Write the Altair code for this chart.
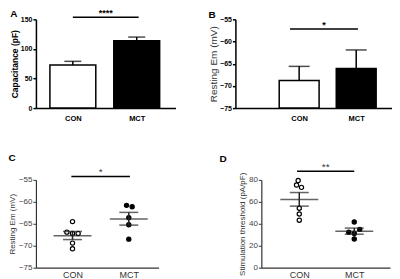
import altair as alt
import pandas as pd

FONT = "Liberation Sans"
groups = ["CON", "MCT"]
gidx = [0, 1]

# Panel A: capacitance (bar + SEM)
cap_mean = [73, 114]
cap_err = [6, 6]
# Panel B: resting Em (bar + SEM)
em_mean = [-68.8, -66.1]
em_err = [3.2, 4.2]
# Panel C: resting Em individual cells
c_con = [-64.5, -66.9, -67.2, -67.2, -69.4, -70.7]
c_mct = [-60.8, -61.1, -63.6, -65.2, -68.5]
c_con_jit = [0, -0.1, 0, 0.1, 0, 0]
c_mct_jit = [-0.04, 0.06, 0, 0, 0]
c_mean = [-67.7, -63.9]
c_lo = [-68.6, -65.3]
c_hi = [-66.75, -62.4]
# Panel D: stimulation threshold individual cells
d_con = [79.4, 75.3, 73.2, 54.2, 48.9, 43.3]
d_mct = [41.7, 32.3, 31.1, 34.9, 26.2]
d_con_jit = [-0.02, -0.05, 0.04, 0, 0, 0]
d_mct_jit = [0, -0.1, 0, 0.1, 0]
d_mean = [62.2, 33.3]
d_lo = [56.1, 30.5]
d_hi = [68.5, 36.1]
# significance bars
sig_y = [153.4, -57.2, -54.2, 87.9]
sig_x1 = [0, -0.16, -0.02, -0.04]
sig_x2 = [1.03, 1.03, 1.02, 1.0]
sig_txt = ["****", "*", "*", "**"]

LABEL_EXPR = "datum.value == 0 ? 'CON' : 'MCT'"


def xaxis(bold):
    if bold:
        return alt.Axis(values=[0, 1], labelExpr=LABEL_EXPR, ticks=False, grid=False, title=None,
                        labelFont=FONT, labelFontWeight="bold", labelFontSize=7.5, labelColor="black",
                        labelPadding=6, domainColor="black", domainWidth=1.5)
    return alt.Axis(values=[0, 1], labelExpr=LABEL_EXPR, ticks=False, grid=False, title=None,
                    labelFont=FONT, labelFontSize=9, labelColor="#333", labelPadding=3,
                    domainColor="#333", domainWidth=1.2)


def X(field, dom, axis):
    return alt.X(f"{field}:Q", scale=alt.Scale(domain=dom, nice=False, zero=False), axis=axis)


def Y(field, dom, axis):
    return alt.Y(f"{field}:Q", scale=alt.Scale(domain=dom, nice=False, zero=False), axis=axis)


def sig_layers(i, xs, ys, bold):
    df = pd.DataFrame({"x1": [sig_x1[i]], "x2": [sig_x2[i]], "y": [sig_y[i]], "t": [sig_txt[i]]})
    base = alt.Chart(df)
    rule = base.mark_rule(strokeWidth=1.5, color="black").encode(
        x=xs("x1"), x2="x2:Q", y=ys("y"))
    txt = base.mark_text(font=FONT, fontSize=9 if bold else 10, fontWeight="bold" if bold else "normal",
                         baseline="alphabetic", dy=-1, color="black" if bold else "#333").transform_calculate(
        mid="(datum.x1 + datum.x2) / 2").encode(x=xs("mid"), y=ys("y"), text="t:N")
    return [rule, txt]


def letter(t, dx=0, dy=0):
    return alt.TitleParams(t, anchor="start", font=FONT, fontSize=10, fontWeight="bold", color="black",
                           dx=dx, dy=dy, offset=0)


def bar_panel(i, means, errs, ydom, yvals, ytitle, title_bold, title_size, xdom, width, barsize, capsize):
    df = pd.DataFrame({"g": gidx, "name": groups, "mean": means,
                       "top": [m + e for m, e in zip(means, errs)], "base": [ydom[0]] * 2})
    yax = alt.Axis(values=yvals, grid=False, title=ytitle, titleFont=FONT,
                   titleFontWeight="bold" if title_bold else "normal", titleFontSize=title_size,
                   titleColor="black" if title_bold else "#333", titlePadding=1,
                   labelFont=FONT, labelFontWeight="bold", labelFontSize=7, labelColor="black",
                   labelPadding=1, tickSize=3, tickWidth=1.5, tickColor="black",
                   domainColor="black", domainWidth=1.5)
    xs = lambda f: X(f, xdom, xaxis(True))
    ys = lambda f: Y(f, ydom, yax)
    base = alt.Chart(df)
    bars = base.mark_bar(size=barsize, stroke="black", strokeWidth=1.5, orient="vertical").encode(
        x=xs("g"), y=ys("mean"), y2="base:Q",
        fill=alt.Fill("name:N", scale=alt.Scale(domain=groups, range=["white", "black"]), legend=None))
    err = base.mark_rule(strokeWidth=1.5, color="black").encode(x=xs("g"), y=ys("mean"), y2="top:Q")
    cap = base.mark_tick(orient="horizontal", size=capsize, thickness=1.5, color="black").encode(
        x=xs("g"), y=ys("top"))
    return alt.layer(bars, err, cap, *sig_layers(i, xs, ys, True)).properties(
        width=width, height=89)


def dot_panel(i, con, mct, con_j, mct_j, mean, lo, hi, ydom, yvals, ytitle, xdom, width):
    df = pd.DataFrame({
        "pos": [0 + j for j in con_j] + [1 + j for j in mct_j],
        "v": con + mct,
        "name": ["CON"] * len(con) + ["MCT"] * len(mct)})
    sdf = pd.DataFrame({"g": gidx, "mean": mean, "lo": lo, "hi": hi})
    yax = alt.Axis(values=yvals, grid=False, title=ytitle, titleFont=FONT, titleFontWeight="normal",
                   titleFontSize=8, titleColor="#333", titlePadding=2,
                   labelFont=FONT, labelFontSize=8, labelColor="#444", labelPadding=1,
                   tickSize=3, tickWidth=1, tickColor="#333", domainColor="#333", domainWidth=1.2)
    xs = lambda f: X(f, xdom, xaxis(False))
    ys = lambda f: Y(f, ydom, yax)
    pts = alt.Chart(df).mark_point(shape="circle", size=18, filled=True, stroke="black",
                                   strokeWidth=1.2, opacity=1).encode(
        x=xs("pos"), y=ys("v"),
        fill=alt.Fill("name:N", scale=alt.Scale(domain=groups, range=["white", "black"]), legend=None))
    sb = alt.Chart(sdf)
    mline = sb.mark_tick(orient="horizontal", size=38, thickness=1.5, color="#222").encode(
        x=xs("g"), y=ys("mean"))
    lo_t = sb.mark_tick(orient="horizontal", size=19, thickness=1.5, color="#222").encode(
        x=xs("g"), y=ys("lo"))
    hi_t = sb.mark_tick(orient="horizontal", size=19, thickness=1.5, color="#222").encode(
        x=xs("g"), y=ys("hi"))
    vr = sb.mark_rule(strokeWidth=1.5, color="#222").encode(x=xs("g"), y=ys("lo"), y2="hi:Q")
    return alt.layer(pts, mline, lo_t, hi_t, vr, *sig_layers(i, xs, ys, False)).properties(
        width=width, height=88)


A = bar_panel(0, cap_mean, cap_err, [0, 150], [0, 50, 100, 150], "Capacitance (pF)", True, 8.5,
              [-0.5, 1.53], 140, 46, 17).properties(title=letter("A", 0, 10))
B = bar_panel(1, em_mean, em_err, [-75, -55], [-75, -70, -65, -60, -55], "Resting Em (mV)", False, 10,
              [-1.03, 1.54], 157, 40, 21).properties(title=letter("B", 0, 5))
C = dot_panel(2, c_con, c_mct, c_con_jit, c_mct_jit, c_mean, c_lo, c_hi, [-75, -55],
              [-75, -70, -65, -60, -55], "Resting Em (mV)", [-0.65, 1.53], 123).properties(
    title=letter("C", 0, -4))
D = dot_panel(3, d_con, d_mct, d_con_jit, d_mct_jit, d_mean, d_lo, d_hi, [0, 80],
              [0, 20, 40, 60, 80], "Stimulation threshold (pA/pF)", [-0.69, 1.65], 129).properties(
    title=letter("D", -19, 2))

top = alt.hconcat(A, B, spacing=60, bounds="flush")
bottom = alt.hconcat(C, D, spacing=103, bounds="flush")
chart = alt.vconcat(top, bottom, spacing=31).properties(
    padding={"left": 0, "top": 0, "right": 0, "bottom": 0}, background="white"
).configure_view(stroke=None)

chart.save("out.html", embed_options={"renderer": "svg", "actions": False})
